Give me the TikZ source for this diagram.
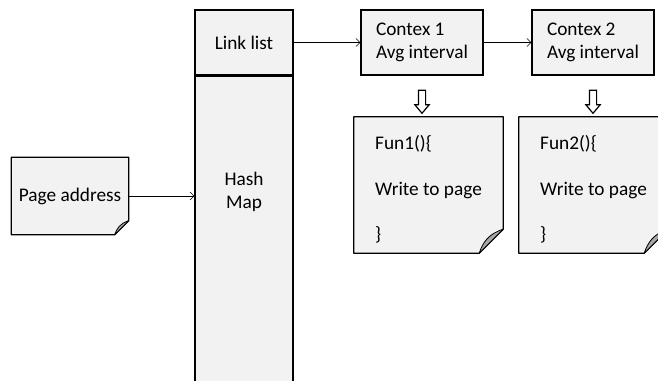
\documentclass[tikz,border=0pt]{standalone}
\usepackage{fontspec}
\setmainfont{Carlito}
\usetikzlibrary{arrows.meta,shapes.arrows}

\definecolor{boxgray}{RGB}{242,242,242}
\definecolor{foldgray}{RGB}{166,166,166}

\tikzset{
  cell/.style={draw, line width=1.3pt, fill=boxgray, inner sep=0pt, align=left},
  notebody/.style={fill=boxgray, inner sep=0pt, align=left},
  link/.style={-{Straight Barb[length=4pt,width=8pt]}, line width=0.6pt},
  downarrow/.style={single arrow, draw, line width=1.2pt, fill=white, inner sep=3pt,
    single arrow head extend=3.5pt, single arrow tip angle=80, minimum height=23pt,
    shape border rotate=270},
}

% note outline with folded corner (south east), #1 = fold size
\newcommand{\dogear}[2][14]{%
  \fill[white] ([yshift=#1pt]#2.south east) -- ([xshift=1pt,yshift=-1pt]#2.south east) -- ([xshift=-#1pt]#2.south east) -- cycle;
  \draw[line width=1.3pt, line join=round] (#2.north west) -- (#2.north east) -- ([yshift=#1pt]#2.south east)
    -- ([xshift=-#1pt]#2.south east) -- (#2.south west) -- cycle;
  \draw[line width=0.8pt, line join=round, fill=foldgray] ([xshift=-#1pt]#2.south east)
    .. controls ([xshift=-0.85*#1pt,yshift=0.45*#1pt]#2.south east) and ([xshift=-0.62*#1pt,yshift=0.8*#1pt]#2.south east)
    .. ([yshift=#1pt]#2.south east) -- cycle;
}

\begin{document}
\begin{tikzpicture}[x=1pt, y=-1pt, font=\fontsize{19.3}{23.5}\selectfont]
  \useasboundingbox (0,0) rectangle (658,380);

  % page address note
  \node[notebody, minimum width=117pt, minimum height=77pt] (page) at (70,196) {Page address};
  \dogear{page}

  % hash column
  \node[cell, minimum width=98pt, minimum height=65pt, align=center] (linklist) at (244,42.5) {Link list};
  \node[cell, minimum width=98pt, minimum height=310pt, anchor=north] (hashmap) at (linklist.south) {};
  \node[align=center, inner sep=0pt] (hashtxt) at (244,192) {Hash\\Map};

  % contexts
  \node[cell, minimum width=122pt, minimum height=65pt] (c1) at (422,42.5) {Contex 1\\Avg interval};
  \node[cell, minimum width=122pt, minimum height=65pt] (c2) at (593,42.5) {Contex 2\\Avg interval};

  % functions
  \node[notebody, minimum width=149pt, minimum height=136pt] (f1) at (428.5,185)
    {\rule{0pt}{23pt}Fun1()\{\\[22pt]Write to page\\[22pt]\}};
  \dogear[24]{f1}
  \node[notebody, minimum width=149pt, minimum height=136pt] (f2) at (593.5,185)
    {\rule{0pt}{23pt}Fun2()\{\\[22pt]Write to page\\[22pt]\}};
  \dogear[24]{f2}

  % connectors
  \draw[link] (page.east) -- (page.east -| hashmap.west);
  \draw[link] (linklist.east) -- (c1.west);
  \draw[link] (c1.east) -- (c2.west);
  \node[downarrow] (d1) at ([yshift=-24pt]c1.south) {};
  \node[downarrow] (d2) at ([yshift=-24pt]c2.south) {};
\end{tikzpicture}
\end{document}
